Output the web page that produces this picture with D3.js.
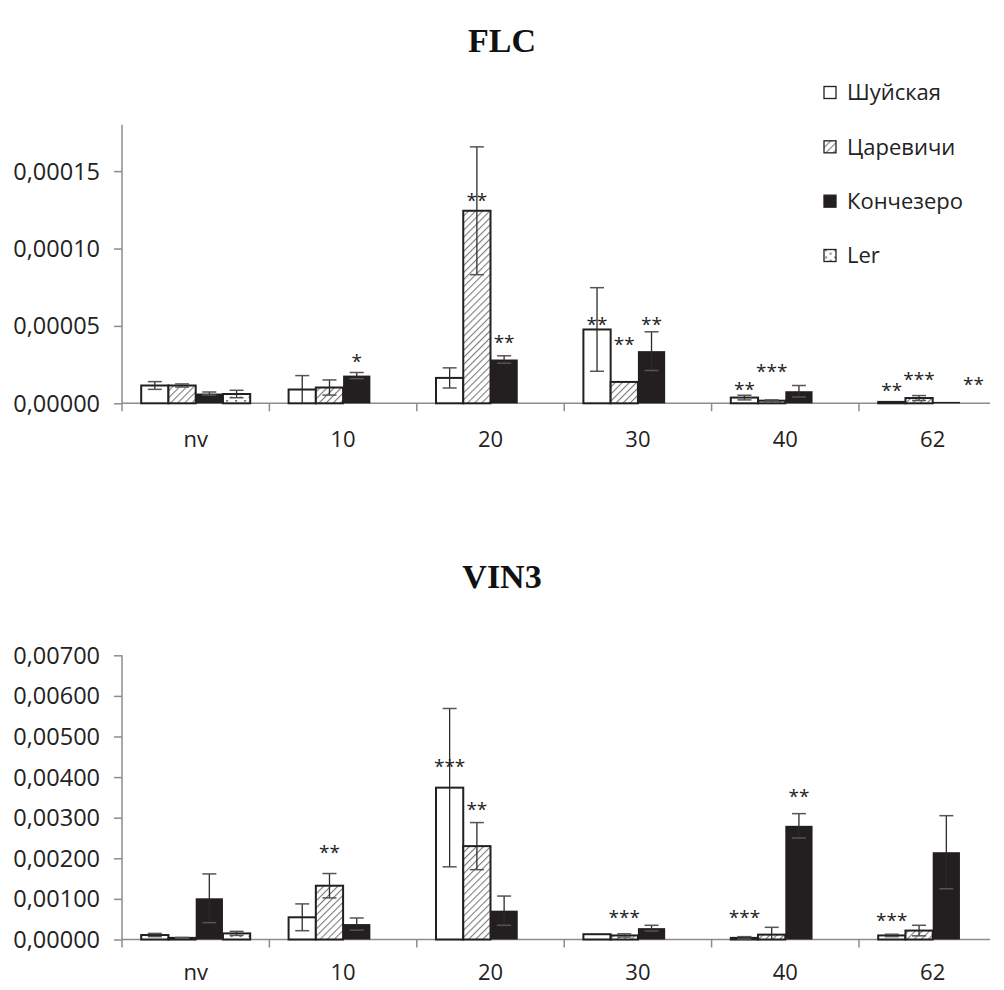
<!DOCTYPE html>
<html>
<head>
<meta charset="utf-8">
<script src="https://cdn.jsdelivr.net/npm/d3@7"></script>
<style>
  html, body { margin: 0; padding: 0; background: #fff; }
  svg { display: block; }
</style>
</head>
<body>
<svg id="chart" width="1004" height="990"></svg>
<script>
// ---------------- DATA ----------------
const categories = ["nv", "10", "20", "30", "40", "62"];
const seriesNames = ["Шуйская", "Царевичи", "Кончезеро", "Ler"];

// FLC
const flcShuya  = [0.0000115, 0.0000089, 0.0000164, 0.0000477, 0.0000037, 0.0000009];
const flcTsar   = [0.0000115, 0.0000102, 0.0001244, 0.0000138, 0.0000017, 0.0000034];
const flcKonch  = [0.0000063, 0.0000179, 0.0000283, 0.0000337, 0.0000078, 0.0000009];
const flcLer    = [0.0000060, null, null, null, null, null];
const flcShuyaErr = [0.0000025, 0.0000090, 0.0000065, 0.0000270, 0.0000015, 0];
const flcTsarErr  = [0.0000010, 0.0000049, 0.0000413, 0, 0.0000005, 0.0000016];
const flcKonchErr = [0.0000010, 0.0000020, 0.0000024, 0.0000125, 0.0000037, 0];
const flcLerErr   = [0.0000024, null, null, null, null, null];
const flcTicks = [0, 0.00005, 0.0001, 0.00015];
const flcMax = 0.00018;
// significance marks: [category, series index, text, value at mark centre]
const flcMarks = [
  ["10", 2, "*",   0.0000293],
  ["20", 1, "**",  0.0001333],
  ["20", 2, "**",  0.0000415],
  ["30", 0, "**",  0.0000532],
  ["30", 1, "**",  0.0000402],
  ["30", 2, "**",  0.0000532],
  ["40", 0, "**",  0.0000112],
  ["40", 1, "***", 0.0000228],
  ["62", 0, "**",  0.0000105],
  ["62", 1, "***", 0.0000176],
  ["62", 3, "**",  0.0000144]
];

// VIN3
const vinShuya  = [0.00011, 0.000547, 0.00374, 0.00013, 0.00004, 0.00010];
const vinTsar   = [0.00004, 0.001325, 0.00230, 0.00010, 0.00012, 0.00022];
const vinKonch  = [0.001015, 0.00038, 0.00071, 0.00028, 0.00280, 0.00215];
const vinLer    = [0.00015, null, null, null, null, null];
const vinShuyaErr = [0.00004, 0.00033, 0.00195, 0, 0.00003, 0.00003];
const vinTsarErr  = [0.00001, 0.00030, 0.00058, 0.00004, 0.00018, 0.00013];
const vinKonchErr = [0.00060, 0.00015, 0.00036, 0.00007, 0.00030, 0.00090];
const vinLerErr   = [0.00005, null, null, null, null, null];
const vinTicks = [0, 0.001, 0.002, 0.003, 0.004, 0.005, 0.006, 0.007];
const vinMax = 0.007;
const vinMarks = [
  ["10", 1, "**",  0.00223],
  ["20", 0, "***", 0.00435],
  ["20", 1, "**",  0.00329],
  ["30", 1, "***", 0.00063],
  ["40", 0, "***", 0.00063],
  ["40", 2, "**",  0.00362],
  ["62", 0, "***", 0.00055]
];

// ---------------- DRAWING ----------------
const svg = d3.select("#chart");
const locale = d3.formatLocale({decimal: ",", thousands: " ", grouping: [3], currency: ["", ""]});
const fmt = locale.format(".5f");
const FONT = "'Open Sans', 'DejaVu Sans', sans-serif";
const AXIS = "#8c8c8c";
const DARK = "#231f20";

// patterns
const defs = svg.append("defs");
const hatch = defs.append("pattern")
  .attr("id", "hatch").attr("patternUnits", "userSpaceOnUse")
  .attr("width", 5).attr("height", 5)
  .attr("patternTransform", "rotate(45)");
hatch.append("rect").attr("width", 5).attr("height", 5).attr("fill", "#fff");
hatch.append("line").attr("x1", 0).attr("y1", 0).attr("x2", 0).attr("y2", 5)
  .attr("stroke", "#7d7d7d").attr("stroke-width", 2.2);

const dots = defs.append("pattern")
  .attr("id", "dots").attr("patternUnits", "userSpaceOnUse")
  .attr("width", 9).attr("height", 7);
dots.append("rect").attr("width", 9).attr("height", 7).attr("fill", "#fff");
dots.append("rect").attr("x", 1).attr("y", 1).attr("width", 2.2).attr("height", 1.6).attr("fill", "#777");
dots.append("rect").attr("x", 5.5).attr("y", 4.5).attr("width", 2.2).attr("height", 1.6).attr("fill", "#777");

const fills = ["#ffffff", "url(#hatch)", DARK, "url(#dots)"];

function drawChart(cfg) {
  const g = svg.append("g");
  const x = d3.scaleBand().domain(categories).range([cfg.left, cfg.left + 6 * 147.4]).padding(0);
  const gapFrac = 19.2 / 147.4;
  const xs = d3.scaleBand().domain(d3.range(4))
    .range([x.bandwidth() * gapFrac, x.bandwidth() * (1 - gapFrac)]).padding(0);
  const y = d3.scaleLinear().domain([0, cfg.max]).range([cfg.bottom, cfg.top]);

  // title
  g.append("text").attr("x", 502).attr("y", cfg.titleY)
    .attr("text-anchor", "middle")
    .attr("font-family", "'Liberation Serif', 'Times New Roman', serif")
    .attr("font-weight", "bold").attr("font-size", 34)
    .attr("fill", "#111").text(cfg.title);

  // y axis
  const yAxis = d3.axisLeft(y).tickValues(cfg.ticks).tickFormat(fmt).tickSize(8).tickPadding(14);
  const ya = g.append("g").attr("transform", `translate(${cfg.left},0)`).call(yAxis);
  ya.select(".domain").attr("stroke", AXIS).attr("stroke-width", 1.5)
    .attr("d", `M0,${cfg.top}V${cfg.bottom + 8}`);
  ya.selectAll(".tick line").attr("stroke", AXIS).attr("stroke-width", 1.5);
  ya.selectAll(".tick text").attr("font-family", FONT).attr("font-size", 23.5)
    .attr("fill", "#222").attr("dy", "0.34em");

  // x axis
  const xa = g.append("g").attr("transform", `translate(0,${cfg.bottom})`)
    .call(d3.axisBottom(x).tickSize(0).tickPadding(cfg.labelPad));
  xa.select(".domain").attr("stroke", AXIS).attr("stroke-width", 1.5)
    .attr("d", `M${cfg.left},0H990`);
  xa.selectAll(".tick text").attr("font-family", FONT).attr("font-size", 22).attr("fill", "#222");
  xa.selectAll(".bound").data(categories.slice(1)).join("line")
    .attr("class", "bound")
    .attr("x1", d => x(d)).attr("x2", d => x(d))
    .attr("y1", 0).attr("y2", 8)
    .attr("stroke", AXIS).attr("stroke-width", 1.5);

  // bars
  const rows = [];
  cfg.values.forEach((vals, s) => vals.forEach((v, i) => {
    if (v !== null) rows.push({cat: categories[i], s, v, e: cfg.errors[s][i]});
  }));
  g.append("g").selectAll("rect").data(rows).join("rect")
    .attr("x", d => x(d.cat) + xs(d.s))
    .attr("width", xs.bandwidth())
    .attr("y", d => y(d.v))
    .attr("height", d => y(0) - y(d.v))
    .attr("fill", d => fills[d.s])
    .attr("stroke", DARK).attr("stroke-width", d => d.s === 2 ? 0 : 2);

  // error bars
  const eb = g.append("g").selectAll("g").data(rows.filter(d => d.e > 0)).join("g")
    .attr("transform", d => `translate(${x(d.cat) + xs(d.s) + xs.bandwidth() / 2},0)`);
  eb.append("line")
    .attr("y1", d => y(d.v + d.e)).attr("y2", d => y(Math.max(0, d.v - d.e)))
    .attr("stroke", "#2b2b2b").attr("stroke-width", 1.3);
  eb.append("line").attr("x1", -7).attr("x2", 7)
    .attr("y1", d => y(d.v + d.e)).attr("y2", d => y(d.v + d.e))
    .attr("stroke", "#555").attr("stroke-width", 1.5);
  eb.filter(d => d.v - d.e > 0).append("line").attr("x1", -7).attr("x2", 7)
    .attr("y1", d => y(d.v - d.e)).attr("y2", d => y(d.v - d.e))
    .attr("stroke", "#555").attr("stroke-width", 1.5);

  // significance marks
  g.append("g").selectAll("text").data(cfg.marks).join("text")
    .attr("x", d => x(d[0]) + xs(d[1]) + xs.bandwidth() / 2)
    .attr("y", d => y(d[3]) + 10)
    .attr("text-anchor", "middle")
    .attr("font-family", FONT).attr("font-size", 19)
    .attr("fill", "#222").text(d => d[2]);
}

drawChart({
  title: "FLC", titleY: 52, top: 124.7, bottom: 403.3, left: 122, labelPad: 28,
  max: flcMax, ticks: flcTicks,
  values: [flcShuya, flcTsar, flcKonch, flcLer],
  errors: [flcShuyaErr, flcTsarErr, flcKonchErr, flcLerErr],
  marks: flcMarks
});

drawChart({
  title: "VIN3", titleY: 588, top: 655.3, bottom: 939.5, left: 122, labelPad: 25,
  max: vinMax, ticks: vinTicks,
  values: [vinShuya, vinTsar, vinKonch, vinLer],
  errors: [vinShuyaErr, vinTsarErr, vinKonchErr, vinLerErr],
  marks: vinMarks
});

// legend
const legend = svg.append("g");
const ly = d3.scalePoint().domain(seriesNames).range([92.5, 255.5]);
const li = legend.selectAll("g").data(seriesNames).join("g")
  .attr("transform", d => `translate(824,${ly(d)})`);
li.append("rect").attr("x", 0).attr("y", -6).attr("width", 12).attr("height", 12)
  .attr("fill", (d, i) => fills[i]).attr("stroke", DARK).attr("stroke-width", 1.3);
li.append("text").attr("x", 23).attr("y", 0).attr("dy", "0.36em")
  .attr("font-family", FONT).attr("font-size", 22).attr("fill", "#222")
  .text(d => d);
</script>
</body>
</html>
